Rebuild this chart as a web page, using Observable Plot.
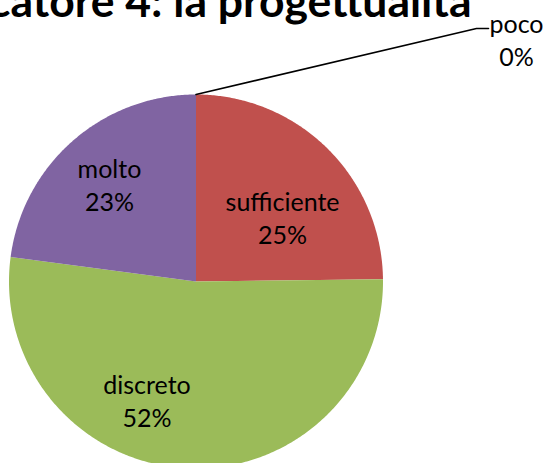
<!DOCTYPE html>
<html><head><meta charset="utf-8">
<script src="https://cdn.jsdelivr.net/npm/d3@7"></script>
<script src="https://cdn.jsdelivr.net/npm/@observablehq/plot@0.6"></script>
<style>html,body{margin:0;padding:0;background:#fff;overflow:hidden}</style>
</head><body><div id="chart"></div>
<script>
const title = "Indicatore 4: la progettualità";
const categories = ["poco", "sufficiente", "discreto", "molto"];
const values = [0, 24.8, 52.3, 22.9];
const colors = ["#4F81BD", "#C0504D", "#9BBB59", "#8064A2"];

// layout (pixels)
const W = 548, H = 463;
const R = 187, cx = 195.5, cy = 281;
const xDomain = [-cx / R, (W - cx) / R];
const yDomain = [-(H - cy) / R, cy / R];
const FS = 25, LH = 33 / 25;

// label nudges (pixels) relative to mid-angle point at 0.6 radius
const nudge = {sufficiente: [7.7, 15.5], discreto: [-42.3, 6.75], molto: [-12.6, -12.85]};
// outside label leader (pixels)
const leader = {dx: 280.5, dy: -66, tail: 12, gap: 28, textDy: 10.5};

const total = d3.sum(values);
const slices = d3.pie().sort(null).value(d => d.value)(
  categories.map((c, i) => ({cat: c, value: values[i]}))
);

const poly = [];
for (const s of slices) {
  const span = s.endAngle - s.startAngle;
  if (span <= 0) continue;
  const n = Math.max(2, Math.ceil(span / (Math.PI / 360)));
  poly.push({cat: s.data.cat, x: 0, y: 0});
  for (let k = 0; k <= n; k++) {
    const a = s.startAngle + span * k / n;
    poly.push({cat: s.data.cat, x: Math.sin(a), y: Math.cos(a)});
  }
  poly.push({cat: s.data.cat, x: 0, y: 0});
}

const inside = [], leaderPts = [], outside = [];
for (const s of slices) {
  const pct = Math.round(s.data.value / total * 100) + "%";
  const text = s.data.cat + "\n" + pct;
  const mid = (s.startAngle + s.endAngle) / 2;
  if (s.endAngle - s.startAngle > 0.2) {
    const [ndx, ndy] = nudge[s.data.cat] || [0, 0];
    inside.push({text, x: 0.6 * Math.sin(mid) + ndx / R, y: 0.6 * Math.cos(mid) - ndy / R});
  } else {
    const ex = Math.sin(mid), ey = Math.cos(mid);
    const bx = ex + leader.dx / R, by = ey - leader.dy / R;
    leaderPts.push({x: ex, y: ey}, {x: bx, y: by}, {x: bx + leader.tail / R, y: by});
    outside.push({text, x: bx + (leader.tail + leader.gap) / R, y: by - leader.textDy / R});
  }
}

const chart = Plot.plot({
  width: W, height: H,
  margin: 0,
  style: {fontFamily: "Lato, 'Open Sans', sans-serif", background: "#fff"},
  x: {domain: xDomain, axis: null},
  y: {domain: yDomain, axis: null},
  color: {domain: categories, range: colors},
  marks: [
    Plot.line(poly, {x: "x", y: "y", z: "cat", fill: "cat", stroke: null, curve: "linear"}),
    Plot.line(leaderPts, {x: "x", y: "y", stroke: "#000", strokeWidth: 1.6}),
    Plot.text(inside, {x: "x", y: "y", text: "text", fontSize: FS, lineHeight: LH, fill: "#000", lineAnchor: "middle"}),
    Plot.text(outside, {x: "x", y: "y", text: "text", fontSize: FS, lineHeight: LH, fill: "#000", lineAnchor: "middle"}),
    Plot.text([title], {text: d => d, frameAnchor: "top-right", textAnchor: "end", lineAnchor: "bottom",
      dx: -77, dy: 16, fontSize: 44.5, fontWeight: "bold", fill: "#000"})
  ]
});
document.getElementById("chart").appendChild(chart);
</script>
</body></html>
